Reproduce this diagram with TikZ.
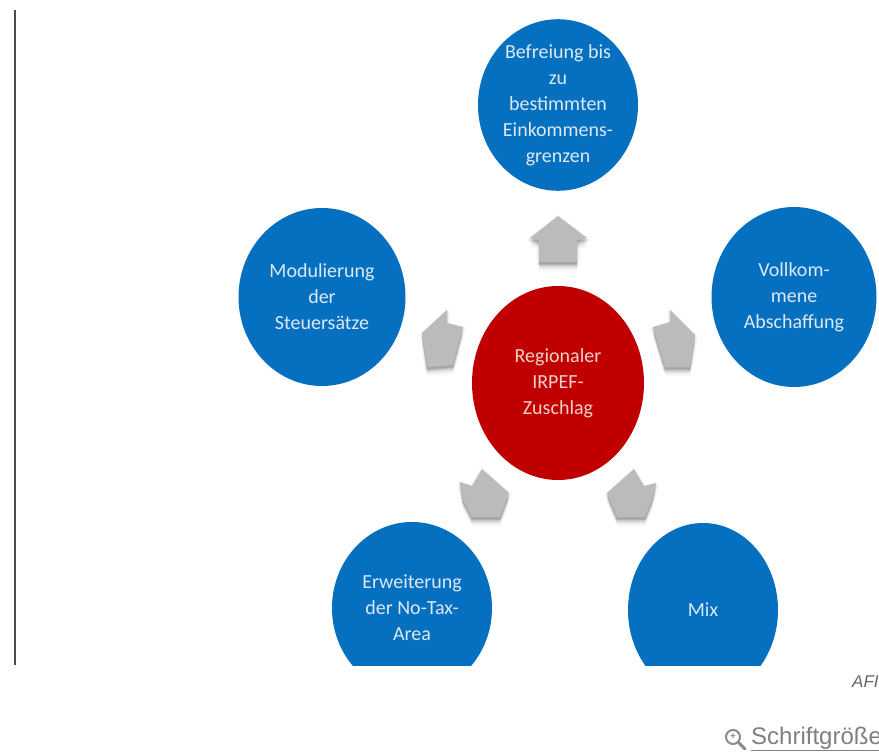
\documentclass[tikz,border=0pt]{standalone}
\usepackage{fontspec}
\setmainfont{Carlito}
\newfontfamily\webfont{Liberation Sans}
\definecolor{bluec}{HTML}{0570C0}
\definecolor{redc}{HTML}{C00000}
\definecolor{arrowc}{HTML}{BBBBBB}
\definecolor{labelc}{HTML}{DCE8F2}
\definecolor{labelr}{HTML}{F0D0CA}
\tikzset{
  blob/.style={ellipse,fill=bluec,inner sep=0pt,align=center,text=labelc,font=\fontsize{20}{26}\selectfont},
  redblob/.style={blob,fill=redc,text=labelr},
  house/.style={fill=arrowc,draw=none,line join=round},
}
\usetikzlibrary{shapes.geometric}
\newcommand{\softhouse}[1]{%
  \foreach \s/\o in {9/0.03,7/0.05,5/0.07,3/0.09}{
    \fill[black,opacity=\o,yshift=-\s pt,line join=round] #1 -- cycle;
  }
  \foreach \w/\o in {6/0.02,4/0.03,2/0.04}{
    \filldraw[black,opacity=\o,line width=\w pt,yshift=-2pt,line join=round] #1 -- cycle;
  }
  \fill[house] #1 -- cycle;
}
\begin{document}
\begin{tikzpicture}[x=1pt,y=-1pt]
\useasboundingbox (0,0) rectangle (879,754);
\fill[white] (0,0) rectangle (879,754);
\draw[line width=2.6pt,draw=black!70] (15,10) -- (15,665);
\begin{scope}
\clip (0,0) rectangle (879,665);
\node[blob,minimum width=160pt,minimum height=170pt] (top) at (558,105) {Befreiung bis\\zu\\bestimmten\\Einkommens-\\grenzen};
\node[blob,minimum width=167pt,minimum height=178pt] (left) at (322,297) {Modulierung\\der\\Steuersätze};
\node[blob,minimum width=165pt,minimum height=180pt] (right) at (794,297) {Vollkom-\\mene\\Abschaffung};
\node[redblob,minimum width=172pt,minimum height=194pt] (centre) at (558,383) {Regionaler\\IRPEF-\\Zuschlag};
\node[blob,minimum width=160pt,minimum height=172pt] (bl) at (412,608) {Erweiterung\\der No-Tax-\\Area};
\node[blob,minimum width=150pt,minimum height=174pt] (br) at (703,610) {Mix};
\end{scope}
\softhouse{(558,216) -- (587,238) -- (577,240) -- (577,262) -- (539,262) -- (539,240) -- (530,238)}
\softhouse{(670,310) -- (695,335) -- (690,367) -- (665,367) -- (653,327) -- (670,322)}
\softhouse{(447,310) -- (447,323) -- (463,327) -- (453,365) -- (427,367) -- (422,333)}
\softhouse{(460,482) -- (472,486) -- (482,469) -- (509,493) -- (500,517) -- (472,517) -- (463,500)}
\softhouse{(656,483) -- (644,486) -- (634,469) -- (607,493) -- (617,517) -- (645,517) -- (652,500)}
\node[anchor=west,inner sep=0pt,font=\webfont\itshape\fontsize{17}{17}\selectfont,text=black!60] (src) at (852,682) {AFI};
\node[anchor=west,inner sep=0pt,font=\webfont\fontsize{24}{24}\selectfont,text=black!50] (size) at (751,739) {\underline{Schriftgröße}};
\node[circle,draw=black!45,line width=2pt,minimum size=14pt,inner sep=0pt,font=\webfont\bfseries\fontsize{10}{10}\selectfont,text=black!45] (lens) at (733,737) {+};
\coordinate (grip) at (745,749);
\draw[draw=black!45,line width=3pt,line cap=round] (lens.south east) -- (grip);
\end{tikzpicture}
\end{document}
